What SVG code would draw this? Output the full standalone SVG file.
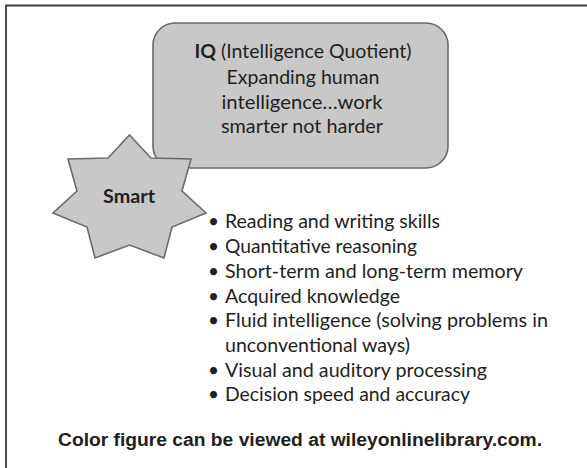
<svg xmlns="http://www.w3.org/2000/svg" width="587" height="468" viewBox="0 0 587 468">
<style>
.t{font-family:Lato,"Open Sans","Noto Sans",sans-serif;font-size:19px;fill:#231f20}
.b{font-weight:bold}
.c{text-anchor:middle}
.f{font-family:"Liberation Sans",Arial,sans-serif;font-size:18px;font-weight:bold;fill:#231f20}
.shape{fill:#c8c8c8;stroke:#6b6b6b;stroke-width:1.6}
</style>
<rect width="587" height="468" fill="#fff"/>
<path d="M6,468 V5.5 H587" fill="none" stroke="#3a3a3a" stroke-width="1.8"/>
<g id="iq-box">
<rect class="shape" x="153" y="23" width="295" height="145" rx="22" ry="22"/>
<text class="t c" x="303" y="58" textLength="217" lengthAdjust="spacingAndGlyphs"><tspan class="b">IQ</tspan> (Intelligence Quotient)</text>
<text class="t c" x="303" y="84" textLength="153" lengthAdjust="spacingAndGlyphs">Expanding human</text>
<text class="t c" x="302" y="109" textLength="161" lengthAdjust="spacingAndGlyphs">intelligence…work</text>
<text class="t c" x="302" y="133" textLength="162" lengthAdjust="spacingAndGlyphs">smarter not harder</text>
</g>
<g id="smart-star">
<polygon class="shape" points="129.5,135 151,158 191,159 182,191 206,213 172,227 164,258 129.5,245 95,258 87,227 53,213 77,191 68,159 108,158"/>
<text class="t b c" x="129" y="203" textLength="52" lengthAdjust="spacingAndGlyphs">Smart</text>
</g>
<g id="list">
<text class="t" x="208" y="228">•</text><text class="t" x="225" y="228" textLength="215" lengthAdjust="spacingAndGlyphs">Reading and writing skills</text>
<text class="t" x="208" y="253">•</text><text class="t" x="225" y="253" textLength="192" lengthAdjust="spacingAndGlyphs">Quantitative reasoning</text>
<text class="t" x="208" y="278">•</text><text class="t" x="225" y="278" textLength="298" lengthAdjust="spacingAndGlyphs">Short-term and long-term memory</text>
<text class="t" x="208" y="303">•</text><text class="t" x="225" y="303" textLength="175" lengthAdjust="spacingAndGlyphs">Acquired knowledge</text>
<text class="t" x="208" y="327">•</text><text class="t" x="225" y="327" textLength="323" lengthAdjust="spacingAndGlyphs">Fluid intelligence (solving problems in</text>
<text class="t" x="225" y="352" textLength="185" lengthAdjust="spacingAndGlyphs">unconventional ways)</text>
<text class="t" x="208" y="377">•</text><text class="t" x="225" y="377" textLength="262" lengthAdjust="spacingAndGlyphs">Visual and auditory processing</text>
<text class="t" x="208" y="401">•</text><text class="t" x="225" y="401" textLength="245" lengthAdjust="spacingAndGlyphs">Decision speed and accuracy</text>
</g>
<text class="f" x="58" y="446" textLength="484" lengthAdjust="spacingAndGlyphs">Color figure can be viewed at wileyonlinelibrary.com.</text>
</svg>
